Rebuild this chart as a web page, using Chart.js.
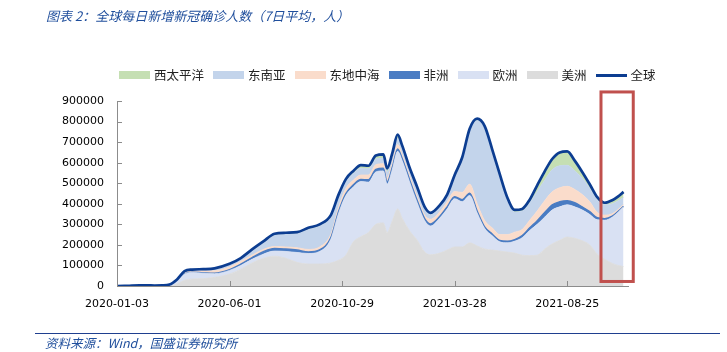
<!DOCTYPE html>
<html><head><meta charset="utf-8">
<script src="https://cdn.jsdelivr.net/npm/chart.js@4.4.1/dist/chart.umd.min.js"></script>
<style>
html,body{margin:0;padding:0;background:#fff;}
#wrap{position:relative;width:727px;height:352px;overflow:hidden;background:#fff;}
#c{position:absolute;left:0;top:0;}
#title{position:absolute;left:46px;top:7px;font:italic 13px "Noto Sans CJK SC";color:#1f4e9c;white-space:nowrap;line-height:18px;}
#legend{position:absolute;left:119px;top:67px;display:flex;gap:9px;font:12.5px "Noto Sans CJK SC";color:#222;line-height:16px;}
.li{display:flex;align-items:center;white-space:nowrap}
.sw{width:31px;height:8px;margin-right:4px}
.ln{width:31px;height:3px;margin-right:4px}
#rule{position:absolute;left:35px;top:333px;width:685px;height:0;border-top:1.5px solid #1f3f8f}
#source{position:absolute;left:45px;top:335px;font:italic 12.5px "Noto Sans CJK SC";color:#1f4e9c;white-space:nowrap;line-height:16px}
</style></head>
<body>
<div id="wrap">
<canvas id="c" width="727" height="352"></canvas>
<div id="title">图表 2：全球每日新增新冠确诊人数（7日平均，人）</div>
<div id="legend"></div>
<div id="rule"></div>
<div id="source">资料来源：Wind，国盛证券研究所</div>
</div>
<script>
// ---- data (days counted from 2020-01-03) ----
const startDate = '2020-01-03';
const days = [0,10,20,30,40,50,60,70,80,90,100,115,130,150,165,180,195,210,225,240,255,270,285,295,305,315,325,335,345,355,360,367,374,380,390,400,410,418,430,440,450,460,470,480,490,500,510,520,530,540,550,560,570,580,590,600,610,620,630,640,650,660,668,675];
const tickLabels = ['2020-01-03','2020-06-01','2020-10-29','2021-03-28','2021-08-25'];
const yTickValues = [0,100000,200000,300000,400000,500000,600000,700000,800000,900000];
const seriesNames = ['美洲','欧洲','非洲','东地中海','东南亚','西太平洋'];
const totalName = '全球';

const americas = [0,0,0,0,0,100,500,1000,10000,28000,34000,36000,42000,58000,82000,112000,135000,145000,135000,115000,107000,107000,112000,125000,150000,215000,240000,260000,300000,307000,260000,318000,375000,330000,268000,223000,165000,152000,160000,175000,190000,190000,210000,195000,180000,175000,170000,165000,160000,150000,148000,150000,180000,205000,222000,238000,232000,220000,200000,155000,130000,110000,100000,95000];
const europe = [0,0,0,0,100,200,1000,3000,15000,30000,32000,26000,18000,18000,18000,18000,20000,25000,33000,48000,51000,61000,116000,225000,290000,267000,268000,245000,255000,253000,235000,250000,280000,280000,237000,182000,153000,140000,170000,200000,235000,220000,230000,160000,100000,70000,45000,45000,58000,85000,122000,150000,155000,165000,163000,157000,153000,150000,148000,167000,190000,225000,260000,290000];
const africa = [0,0,0,0,0,0,0,0,300,1000,1000,2000,2000,3000,6000,8000,12000,13000,12000,12000,8000,8000,8000,10000,10000,10000,10000,12000,12000,13000,12000,12000,12000,12000,12000,12000,10000,10000,8000,10000,10000,10000,12000,10000,8000,8000,7000,8000,8000,10000,13000,18000,23000,25000,25000,20000,20000,15000,14000,10000,8000,5000,4000,3000];
const eastMed = [0,0,0,0,100,200,700,1000,2700,6000,6000,9000,12000,14000,14000,12000,11000,9000,10000,11000,12000,14000,16000,20000,25000,23000,22000,23000,23000,22000,20000,20000,21000,18000,18000,18000,17000,23000,22000,24000,25000,35000,43000,35000,30000,30000,28000,32000,36000,30000,37000,47000,57000,63000,68000,70000,65000,60000,48000,26000,17000,12000,9000,8000];
const seAsia = [0,0,0,0,0,0,100,100,500,1000,2000,4000,6000,11000,11000,22000,32000,55000,62000,69000,97000,102000,85000,53000,33000,33000,33000,30000,28000,27000,28000,30000,30000,28000,27000,33000,30000,23000,25000,29000,65000,155000,260000,405000,452000,372000,287000,175000,98000,90000,85000,95000,100000,107000,107000,102000,90000,80000,65000,62000,50000,48000,42000,34000];
const wPacific = [100,200,1500,2600,3100,1900,900,1900,3500,6000,5000,5000,6000,4000,5000,6000,7000,7000,7000,7000,8000,8000,8000,9000,12000,12000,15000,15000,17000,18000,17000,18000,18000,16000,13000,14000,10000,8000,7000,7000,15000,15000,10000,9000,8000,10000,8000,7000,10000,10000,15000,30000,43000,53000,65000,68000,50000,30000,20000,12000,10000,17000,21000,28000];
const globalTotal = [100,200,1500,2600,3300,2400,3200,7000,32000,72000,80000,82000,86000,108000,136000,178000,217000,254000,259000,262000,283000,300000,345000,442000,520000,560000,588000,585000,635000,640000,572000,648000,736000,684000,575000,482000,385000,356000,392000,445000,540000,625000,765000,814000,778000,665000,545000,432000,370000,375000,420000,490000,558000,618000,650000,655000,610000,555000,495000,432000,405000,417000,436000,458000];

// highlighted period (red frame), in data units
const highlightDates = ['2021-10-09','2021-11-21'];
const highlightValues = [22000, 944000];

// ---- styles ----
const areaColors = ['#dcdcdc','#d9e1f3','#4a7cc3','#fadccb','#c3d4eb','#c5dfb3'];
const areaBorderWidths = [0.8, 0.8, 1.4, 0.8, 0.8, 0.8];
const lineColor = '#0c3d91';
const axisColor = '#8c8c8c';

const dayOf = d => Math.round((Date.parse(d) - Date.parse(startDate)) / 86400000);
const tickDays = tickLabels.map(dayOf);
const areaSeries = [americas, europe, africa, eastMed, seAsia, wPacific];

const datasets = areaSeries.map((vals, i) => ({
  label: seriesNames[i],
  data: days.map((d, j) => ({x: d, y: vals[j]})),
  backgroundColor: areaColors[i],
  borderColor: areaColors[i],
  borderWidth: areaBorderWidths[i],
  fill: i === 0 ? 'origin' : '-1',
  pointRadius: 0,
  cubicInterpolationMode: 'monotone',
  stack: 'regions',
  order: 1
}));
datasets.push({
  label: totalName,
  data: days.map((d, j) => ({x: d, y: globalTotal[j]})),
  borderColor: lineColor,
  backgroundColor: lineColor,
  borderWidth: 2.7,
  fill: false,
  pointRadius: 0,
  cubicInterpolationMode: 'monotone',
  stack: 'total',
  order: 0
});

const innerTicks = {
  id: 'innerTicks',
  afterDraw(chart) {
    const {ctx, scales: {x, y}} = chart;
    ctx.save();
    ctx.strokeStyle = axisColor;
    ctx.lineWidth = 1;
    ctx.beginPath();
    yTickValues.forEach(v => {
      const py = Math.round(y.getPixelForValue(v)) + 0.5;
      ctx.moveTo(x.left, py); ctx.lineTo(x.left + 5, py);
    });
    tickDays.forEach(v => {
      const px = Math.round(x.getPixelForValue(v)) + 0.5;
      ctx.moveTo(px, y.bottom); ctx.lineTo(px, y.bottom - 5);
    });
    ctx.stroke();
    // red frame
    const x1 = x.getPixelForValue(dayOf(highlightDates[0]));
    const x2 = x.getPixelForValue(dayOf(highlightDates[1]));
    const y1 = y.getPixelForValue(highlightValues[1]);
    const y2 = y.getPixelForValue(highlightValues[0]);
    ctx.strokeStyle = '#c0504d';
    ctx.lineWidth = 3;
    ctx.strokeRect(x1, y1, x2 - x1, y2 - y1);
    ctx.restore();
  }
};

const chart = new Chart(document.getElementById('c'), {
  type: 'line',
  data: {datasets},
  options: {
    responsive: false,
    animation: false,
    devicePixelRatio: 1,
    layout: {padding: {left: 0, top: 101, right: 99, bottom: 36}},
    plugins: {legend: {display: false}, tooltip: {enabled: false}, title: {display: false}},
    scales: {
      x: {
        type: 'linear', min: 0, max: 681,
        grid: {display: false, drawTicks: false},
        border: {display: true, color: axisColor, width: 1},
        afterBuildTicks: s => { s.ticks = tickDays.map(v => ({value: v})); },
        afterFit: s => { s.height = 30; },
        ticks: {
          autoSkip: false, maxRotation: 0, padding: 12, color: '#000',
          font: {family: 'DejaVu Sans', size: 11},
          callback: v => { const i = tickDays.indexOf(v); return i >= 0 ? tickLabels[i] : ''; }
        }
      },
      y: {
        stacked: true, min: 0, max: 900000,
        grid: {display: false, drawTicks: false},
        border: {display: true, color: axisColor, width: 1},
        afterBuildTicks: s => { s.ticks = yTickValues.map(v => ({value: v})); },
        afterFit: s => { s.width = 117; },
        ticks: {
          padding: 13, color: '#000',
          font: {family: 'DejaVu Sans', size: 11},
          callback: v => String(v)
        }
      }
    }
  },
  plugins: [innerTicks]
});

// legend built from the chart's datasets (reference order: top layer first, then the total line)
const legendEl = document.getElementById('legend');
const areaMetas = chart.data.datasets.slice(0, areaSeries.length).reverse();
const legendItems = areaMetas.concat([chart.data.datasets[areaSeries.length]]);
legendItems.forEach(ds => {
  const item = document.createElement('div');
  item.className = 'li';
  const sw = document.createElement('span');
  const isLine = ds.fill === false;
  sw.className = isLine ? 'ln' : 'sw';
  sw.style.background = isLine ? ds.borderColor : ds.backgroundColor;
  const tx = document.createElement('span');
  tx.textContent = ds.label;
  item.appendChild(sw); item.appendChild(tx);
  legendEl.appendChild(item);
});
</script>
</body></html>
